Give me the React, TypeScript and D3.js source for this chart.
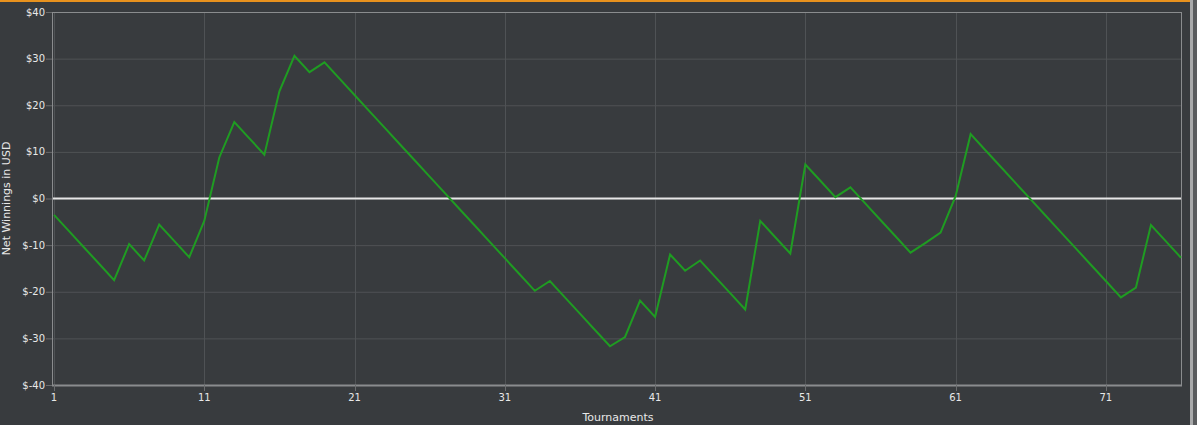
import React from "react";
import * as d3 from "d3";

const tournaments: number[] = Array.from({ length: 76 }, (_, i) => i + 1);
const netWinnings: number[] = [
  -3.5, -7.0, -10.5, -14.0, -17.5, -9.8, -13.3, -5.6, -9.1, -12.6,
  -4.8, 8.8, 16.4, 12.9, 9.4, 23.0, 30.6, 27.1, 29.2, 25.7,
  22.2, 18.7, 15.2, 11.7, 8.2, 4.7, 1.2, -2.3, -5.8, -9.3,
  -12.8, -16.3, -19.8, -17.7, -21.2, -24.7, -28.2, -31.7, -29.7, -21.9,
  -25.4, -12.0, -15.5, -13.3, -16.8, -20.3, -23.8, -4.8, -8.3, -11.8,
  7.3, 3.8, 0.3, 2.4, -1.1, -4.6, -8.1, -11.6, -9.5, -7.3,
  0.5, 13.8, 10.3, 6.8, 3.3, -0.2, -3.7, -7.2, -10.7, -14.2,
  -17.7, -21.2, -19.1, -5.7, -9.2, -12.7,
];
const xTicks: number[] = [1, 11, 21, 31, 41, 51, 61, 71];
const yTicks: number[] = [-40, -30, -20, -10, 0, 10, 20, 30, 40];

const W = 1197;
const H = 425;
const frameL = 52;
const frameR = 1182;
const top = 12;
const bottom = 385;

export default function App() {
  const x = d3.scaleLinear().domain([1, 76]).range([54, 1181]);
  const y = d3.scaleLinear().domain([-40, 40]).range([bottom, top]);
  const line = d3
    .line<number>()
    .x((_, i) => x(tournaments[i]))
    .y((d) => y(d));
  const font = "DejaVu Sans, Verdana, sans-serif";
  return (
    <svg
      width={W}
      height={H}
      style={{ position: "absolute", left: 0, top: 0, display: "block" }}
    >
      <rect x={0} y={0} width={W} height={H} fill="#383b3e" />
      <rect x={0} y={0} width={1190} height={2} fill="#e8921e" />
      <rect x={1190} y={0} width={3} height={H} fill="#a9aaab" />
      <rect x={1193} y={0} width={4} height={H} fill="#5a5c5e" />
      {/* grid */}
      {yTicks.map((t) => (
        <line
          key={"gy" + t}
          x1={frameL}
          x2={frameR}
          y1={y(t) + 0.5}
          y2={y(t) + 0.5}
          stroke="#4f5255"
          strokeWidth={1}
        />
      ))}
      {xTicks.map((t) => (
        <line
          key={"gx" + t}
          x1={Math.round(x(t)) + 0.5}
          x2={Math.round(x(t)) + 0.5}
          y1={top}
          y2={bottom}
          stroke="#4f5255"
          strokeWidth={1}
        />
      ))}
      {/* frame */}
      <rect
        x={frameL + 0.5}
        y={top + 0.5}
        width={frameR - frameL - 1}
        height={bottom - top}
        fill="none"
        stroke="#8a8c8e"
        strokeWidth={1}
      />
      <line x1={frameL} x2={frameR} y1={bottom + 0.5} y2={bottom + 0.5} stroke="#8a8c8e" strokeWidth={2} />
      {/* y ticks */}
      {yTicks.map((t) => (
        <g key={"ty" + t}>
          <line x1={46} x2={frameL} y1={y(t) + 0.5} y2={y(t) + 0.5} stroke="#6a6c6e" />
          <text
            x={45}
            y={y(t) + 3.5}
            textAnchor="end"
            fontFamily={font}
            fontSize={10}
            fill="#e8e8e8"
          >
            {"$" + t}
          </text>
        </g>
      ))}
      {/* x ticks */}
      {xTicks.map((t) => (
        <g key={"tx" + t}>
          <line
            x1={Math.round(x(t)) + 0.5}
            x2={Math.round(x(t)) + 0.5}
            y1={bottom}
            y2={bottom + 6}
            stroke="#6a6c6e"
          />
          <text
            x={x(t)}
            y={bottom + 16}
            textAnchor="middle"
            fontFamily={font}
            fontSize={10}
            fill="#e8e8e8"
          >
            {t}
          </text>
        </g>
      ))}
      {/* zero line */}
      <line x1={frameL + 1} x2={frameR - 1} y1={y(0)} y2={y(0)} stroke="#e6e6e6" strokeWidth={2} />
      {/* series */}
      <path d={line(netWinnings) || ""} fill="none" stroke="#1f9c22" strokeWidth={2} strokeLinejoin="miter" />
      {/* axis titles */}
      <text
        transform={`translate(9.5,${(top + bottom) / 2}) rotate(-90)`}
        textAnchor="middle"
        fontFamily={font}
        fontSize={11}
        fill="#e8e8e8"
      >
        Net Winnings in USD
      </text>
      <text
        x={618}
        y={421}
        textAnchor="middle"
        fontFamily={font}
        fontSize={11}
        fill="#e8e8e8"
      >
        Tournaments
      </text>
    </svg>
  );
}
